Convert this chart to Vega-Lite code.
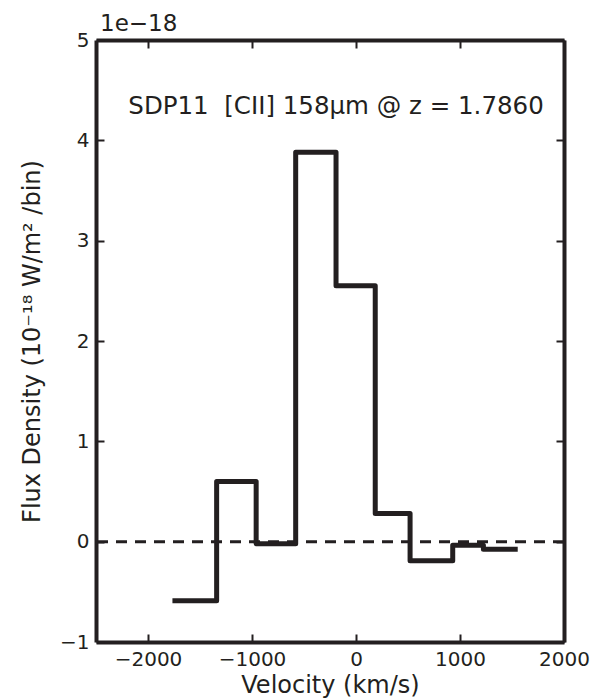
{
  "$schema": "https://vega.github.io/schema/vega-lite/v6.json",
  "width": 468,
  "height": 602,
  "autosize": "none",
  "padding": {"left": 96, "top": 40, "right": 49, "bottom": 58},
  "background": "white",
  "config": {
    "view": {"stroke": null},
    "font": "DejaVu Sans",
    "axis": {
      "grid": false,
      "domainColor": "#231f20",
      "domainWidth": 4,
      "tickColor": "#231f20",
      "tickWidth": 2,
      "tickSize": -8,
      "labelFont": "DejaVu Sans",
      "labelFontSize": 20,
      "labelColor": "#231f20",
      "titleFont": "DejaVu Sans",
      "titleFontSize": 24,
      "titleFontWeight": "normal",
      "titleColor": "#231f20",
      "labelFlush": false,
      "labelOverlap": false
    }
  },
  "title": {
    "text": "1e−18",
    "anchor": "start",
    "frame": "group",
    "fontSize": 23,
    "fontWeight": "normal",
    "font": "DejaVu Sans",
    "color": "#231f20",
    "offset": -6,
    "dx": 4
  },
  "data": {
    "values": [
      {"v": -1765, "f": -0.59},
      {"v": -1340, "f": 0.60},
      {"v": -960, "f": -0.02},
      {"v": -580, "f": 3.88},
      {"v": -192, "f": 2.55},
      {"v": 185, "f": 0.28},
      {"v": 520, "f": -0.19},
      {"v": 930, "f": -0.035},
      {"v": 1225, "f": -0.075},
      {"v": 1555, "f": -0.075}
    ]
  },
  "resolve": {"axis": {"x": "independent", "y": "independent"}},
  "layer": [
    {
      "data": {"values": [{"zero": 0}]},
      "mark": {"type": "rule", "strokeDash": [11, 8], "strokeWidth": 3, "color": "#231f20"},
      "encoding": {
        "y": {"field": "zero", "type": "quantitative", "scale": {"domain": [-1, 5], "nice": false, "zero": false}, "axis": null}
      }
    },
    {
      "mark": {"type": "line", "interpolate": "step-after", "strokeWidth": 5, "color": "#231f20", "strokeJoin": "round", "strokeCap": "butt"},
      "encoding": {
        "x": {
          "field": "v", "type": "quantitative",
          "scale": {"domain": [-2500, 2000], "nice": false, "zero": false},
          "axis": {"orient": "bottom", "values": [-2000, -1000, 0, 1000, 2000], "format": "d", "title": "Velocity (km/s)", "labelPadding": 15, "titlePadding": 4}
        },
        "y": {
          "field": "f", "type": "quantitative",
          "scale": {"domain": [-1, 5], "nice": false, "zero": false},
          "axis": {"orient": "left", "values": [-1, 0, 1, 2, 3, 4, 5], "format": "d", "title": "Flux Density (10⁻¹⁸ W/m² /bin)", "labelPadding": 15, "titlePadding": 15}
        }
      }
    },
    {
      "mark": {"type": "line", "opacity": 0},
      "encoding": {
        "x": {
          "field": "v", "type": "quantitative",
          "scale": {"domain": [-2500, 2000], "nice": false, "zero": false},
          "axis": {"orient": "top", "values": [-2000, -1000, 0, 1000, 2000], "labels": false, "title": null}
        },
        "y": {
          "field": "f", "type": "quantitative",
          "scale": {"domain": [-1, 5], "nice": false, "zero": false},
          "axis": {"orient": "right", "values": [-1, 0, 1, 2, 3, 4, 5], "labels": false, "title": null}
        }
      }
    },
    {
      "data": {"values": [{"label": "SDP11\u00a0\u00a0[CII] 158μm @ z = 1.7860", "xv": -192, "yv": 4.33}]},
      "mark": {"type": "text", "fontSize": 24.5, "font": "DejaVu Sans", "color": "#231f20", "align": "center", "baseline": "middle"},
      "encoding": {
        "text": {"field": "label"},
        "x": {"field": "xv", "type": "quantitative", "axis": null},
        "y": {"field": "yv", "type": "quantitative", "axis": null}
      }
    }
  ]
}
